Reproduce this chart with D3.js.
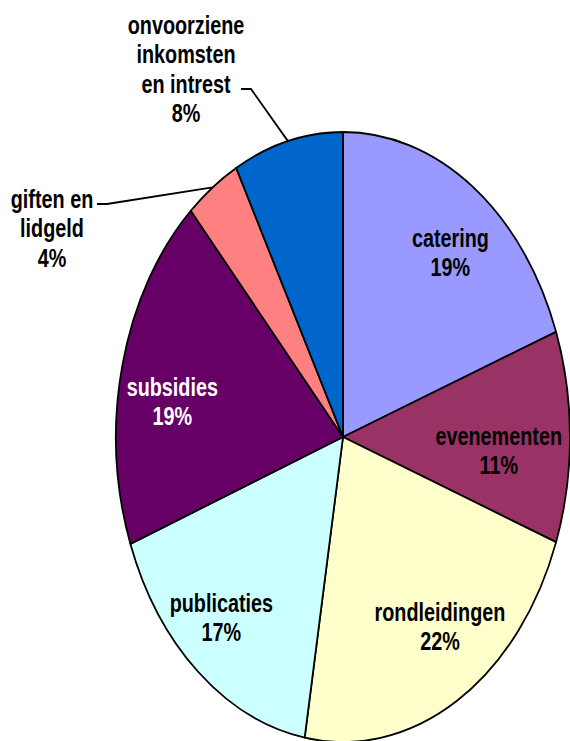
<!DOCTYPE html>
<html>
<head>
<meta charset="utf-8">
<script src="https://cdn.jsdelivr.net/npm/d3@7"></script>
<style>
  body { margin: 0; background: #fff; }
  text { font-family: "Liberation Sans", Arial, sans-serif; font-weight: bold; }
</style>
</head>
<body>
<div id="chart"></div>
<script>
// slices, clockwise from 12 o'clock
const categories = ["catering", "evenementen", "rondleidingen", "publicaties",
                    "subsidies", "giften en lidgeld", "onvoorziene inkomsten en intrest"];
const labelLines = [["catering"], ["evenementen"], ["rondleidingen"], ["publicaties"],
                    ["subsidies"], ["giften en", "lidgeld"], ["onvoorziene", "inkomsten", "en intrest"]];
const shares = [19.4, 11.2, 22.1, 16.6, 19.0, 3.9, 7.8];
const colors = ["#9999FF", "#993366", "#FFFFCC", "#CCFFFF", "#660066", "#FF8080", "#0066CC"];
const textColors = ["#000", "#000", "#000", "#000", "#fff", "#000", "#000"];

const width = 570, height = 741;
const cx = 343, cy = 437;
const R = 227;          // horizontal radius
const k = 305 / 227;    // the picture is stretched vertically
const fontSize = 19.8;
const lh = 21.8;        // line height (unstretched units)

// small slices: text centre x / first baseline (page px) and leader elbow
const outside = {
  "giften en lidgeld": { x: 52, y: 208, elbow: [97, 204] },
  "onvoorziene inkomsten en intrest": { x: 186, y: 34, elbow: [241, 89] }
};
// Excel's own placement of the inside labels differs a bit from the mid-angle (px)
const nudge = {
  "catering": [8, 7], "evenementen": [0, 14], "rondleidingen": [10, -12],
  "publicaties": [-11, 1], "subsidies": [-2, 20]
};

const data = categories.map((c, i) => ({
  name: c, lines: labelLines[i], share: shares[i], color: colors[i], tc: textColors[i]
}));

const svg = d3.select("#chart").append("svg")
    .attr("width", width)
    .attr("height", height);

const g = svg.append("g")
    .attr("transform", "translate(" + cx + "," + cy + ") scale(1," + k + ")");

const pie = d3.pie().sort(null).value(d => d.share);
const arc = d3.arc().innerRadius(0).outerRadius(R);
const arcs = pie(data);

g.selectAll("path.slice")
  .data(arcs)
  .enter().append("path")
    .attr("class", "slice")
    .attr("d", arc)
    .attr("fill", d => d.data.color)
    .attr("stroke", "#000")
    .attr("stroke-width", 1.8)
    .attr("stroke-linejoin", "round")
    .attr("vector-effect", "non-scaling-stroke");

const fmt = d => Math.round(d.data.share) + "%";

// inside labels
const labelR = R * 0.765;

arcs.filter(d => d.data.share >= 10).forEach(d => {
  const a = (d.startAngle + d.endAngle) / 2;
  const n = nudge[d.data.name] || [0, 0];
  let x = Math.sin(a) * labelR;
  const y0 = -Math.cos(a) * labelR;
  const lines = d.data.lines.concat([fmt(d)]);
  const t = g.append("text")
      .attr("text-anchor", "middle")
      .attr("font-size", fontSize)
      .attr("fill", d.data.tc);
  lines.forEach((s, i) => {
    t.append("tspan").attr("x", 0)
        .attr("y", y0 + n[1] / k - (lines.length - 1) * lh / 2 + i * lh + fontSize * 0.33)
        .text(s);
  });
  // keep the text inside the ellipse
  const half = t.node().getBBox().width / 2;
  const edge = Math.sqrt(Math.max(0, R * R - y0 * y0)) - 8;
  if (x + half > edge) x = edge - half;
  if (x - half < -edge) x = -edge + half;
  t.selectAll("tspan").attr("x", x + n[0]);
});

// outside labels with leader lines
arcs.filter(d => d.data.share < 10).forEach(d => {
  const o = outside[d.data.name];
  const a = (d.startAngle + d.endAngle) / 2;
  const ex = cx + Math.sin(a) * R, ey = cy - Math.cos(a) * R * k;
  const lines = d.data.lines.concat([fmt(d)]);

  svg.append("path")
      .attr("d", d3.line()([o.elbow, [o.elbow[0] + 10, o.elbow[1]], [ex, ey]]))
      .attr("fill", "none")
      .attr("stroke", "#000")
      .attr("stroke-width", 1.8);

  const t = g.append("text")
      .attr("text-anchor", "middle")
      .attr("font-size", fontSize)
      .attr("fill", d.data.tc);
  lines.forEach((s, i) => {
    t.append("tspan")
        .attr("x", o.x - cx)
        .attr("y", (o.y - cy) / k + i * lh)
        .text(s);
  });
});
</script>
</body>
</html>
